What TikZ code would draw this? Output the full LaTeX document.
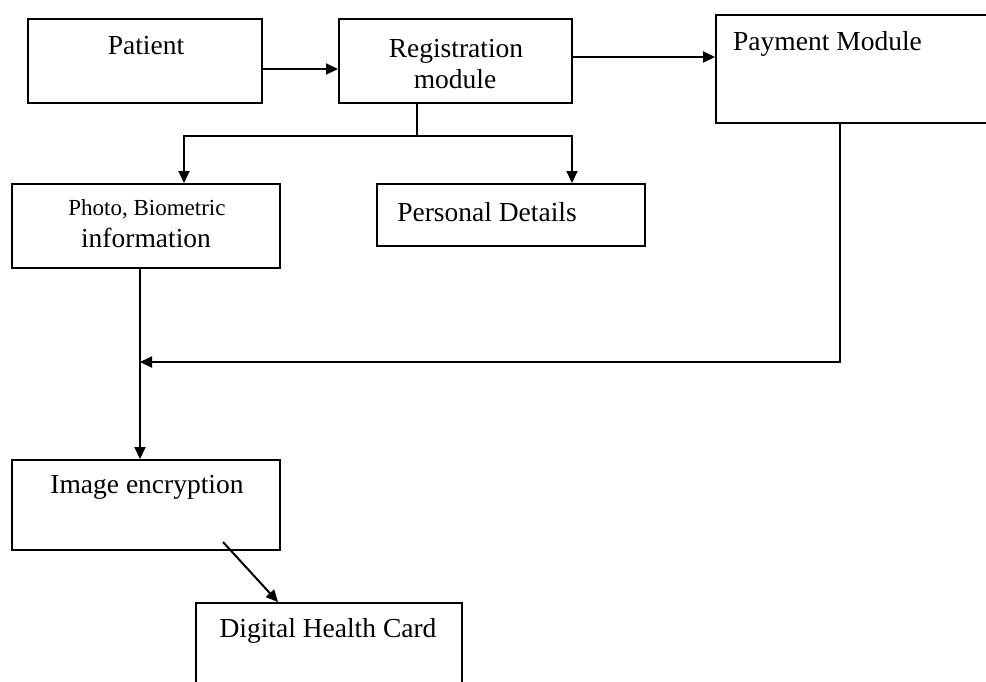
\documentclass[tikz,border=0pt]{standalone}
\usepackage{fontspec}
\setmainfont{Liberation Serif}
\usetikzlibrary{arrows.meta}
\begin{document}
\begin{tikzpicture}[x=1pt,y=-1pt,
  box/.style={draw, line width=2pt, inner sep=0pt, rectangle},
  lbl/.style={inner sep=0pt, anchor=base, font=\fontsize{27.5}{33}\selectfont},
  lblsmall/.style={inner sep=0pt, anchor=base, font=\fontsize{23}{28}\selectfont},
  conn/.style={line width=2pt},
  arr/.style={line width=2pt, -{Triangle[length=12pt,width=11pt]}}]
\useasboundingbox (0,0) rectangle (986,681);
\fill[white] (0,0) rectangle (986,681);
% boxes
\node[box, minimum width=234pt, minimum height=84pt] (patient) at (145,61) {};
\node[box, minimum width=233pt, minimum height=84pt] (reg) at (455.5,61) {};
\node[box, minimum width=284pt, minimum height=108pt] (pay) at (858,69) {};
\node[box, minimum width=268pt, minimum height=84pt] (photo) at (146,226) {};
\node[box, minimum width=268pt, minimum height=62pt] (pers) at (511,215) {};
\node[box, minimum width=268pt, minimum height=90pt] (enc) at (146,505) {};
\node[box, minimum width=266pt, minimum height=97pt] (card) at (329,651.5) {};
% texts
\node[lbl] (tpatient) at (146,54) {Patient};
\node[lbl] (treg1) at (456,57) {Registration};
\node[lbl] (treg2) at (455,88) {module};
\node[lbl, anchor=base west] (tpay) at (733,50) {Payment Module};
\node[lblsmall] (tphoto1) at (147,215) {Photo, Biometric};
\node[lbl] (tphoto2) at (146,247) {information};
\node[lbl] (tpers) at (487,221) {Personal Details};
\node[lbl] (tenc) at (147,493) {Image encryption};
\node[lbl] (tcard) at (328,637) {Digital Health Card};
% helper coordinates
\coordinate (split) at (417,136);
\coordinate (merge) at (140,362);
\coordinate (encout) at (223,542);
% connectors
\draw[arr] ([yshift=-8pt]patient.east) -- ([yshift=-8pt]reg.west);
\draw[arr] ([yshift=4pt]reg.east) -- ([yshift=12pt]pay.west);
\draw[conn] ([xshift=-38.5pt]reg.south) -- (split);
\draw[arr] (split) -| ([xshift=38pt]photo.north);
\draw[arr] (split) -| ([xshift=61pt]pers.north);
\draw[arr] ([xshift=-6pt]photo.south) -- ([xshift=-6pt]enc.north);
\draw[arr] ([xshift=-18pt]pay.south) |- (merge);
\draw[arr] (encout) -- ([xshift=-51pt]card.north);
\end{tikzpicture}
\end{document}
